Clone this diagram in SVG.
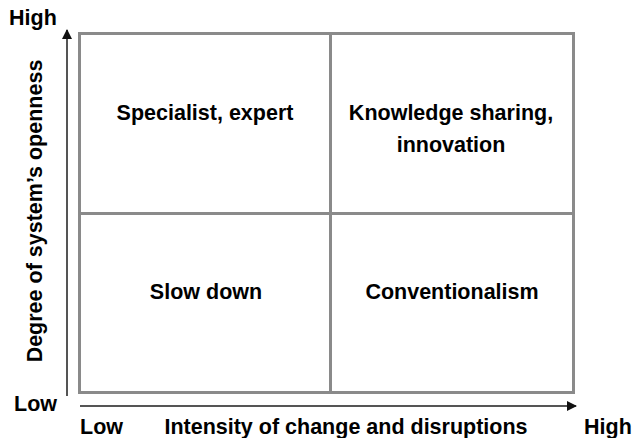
<svg xmlns="http://www.w3.org/2000/svg" width="634" height="438" viewBox="0 0 634 438">
  <style>
    .lbl { font-family: "Liberation Sans", Arial, sans-serif; font-weight: bold; font-size: 21.5px; fill: #000; }
    .grid { fill: none; stroke: #8a8a8a; stroke-width: 3; }
    .axis { stroke: #555; stroke-width: 2; fill: none; }
  </style>
  <defs>
    <marker id="arrow" viewBox="0 0 10 10" refX="9" refY="5" markerWidth="5" markerHeight="5" orient="auto" markerUnits="strokeWidth">
      <path d="M0,0 L10,5 L0,10 z" fill="#111"/>
    </marker>
  </defs>
  <rect width="634" height="438" fill="#fff"/>

  <!-- matrix frame and dividers -->
  <g id="matrix">
    <rect class="grid" x="79.5" y="33.5" width="494" height="359"/>
    <line class="grid" x1="330.5" y1="33.5" x2="330.5" y2="392.5"/>
    <line class="grid" x1="79.5" y1="213.5" x2="573.5" y2="213.5"/>
  </g>

  <!-- axes -->
  <g id="connectors">
    <line class="axis" x1="67" y1="396" x2="67" y2="30" marker-end="url(#arrow)"/>
    <line class="axis" x1="80" y1="406" x2="576" y2="406" marker-end="url(#arrow)"/>
  </g>

  <g id="q-specialist"><text class="lbl" x="205" y="120" text-anchor="middle">Specialist, expert</text></g>
  <g id="q-knowledge">
    <text class="lbl" x="451" y="120" text-anchor="middle">Knowledge sharing,</text>
    <text class="lbl" x="451" y="152" text-anchor="middle">innovation</text>
  </g>
  <g id="q-slow"><text class="lbl" x="206" y="299" text-anchor="middle">Slow down</text></g>
  <g id="q-conventional"><text class="lbl" x="452" y="299" text-anchor="middle">Conventionalism</text></g>

  <g id="axis-labels">
    <text class="lbl" x="9" y="25">High</text>
    <text class="lbl" x="14" y="411">Low</text>
    <text class="lbl" x="80" y="434">Low</text>
    <text class="lbl" x="346" y="434" text-anchor="middle">Intensity of change and disruptions</text>
    <text class="lbl" x="584" y="434">High</text>
    <text class="lbl" transform="translate(42,211) rotate(-90)" text-anchor="middle">Degree of system’s openness</text>
  </g>
</svg>
